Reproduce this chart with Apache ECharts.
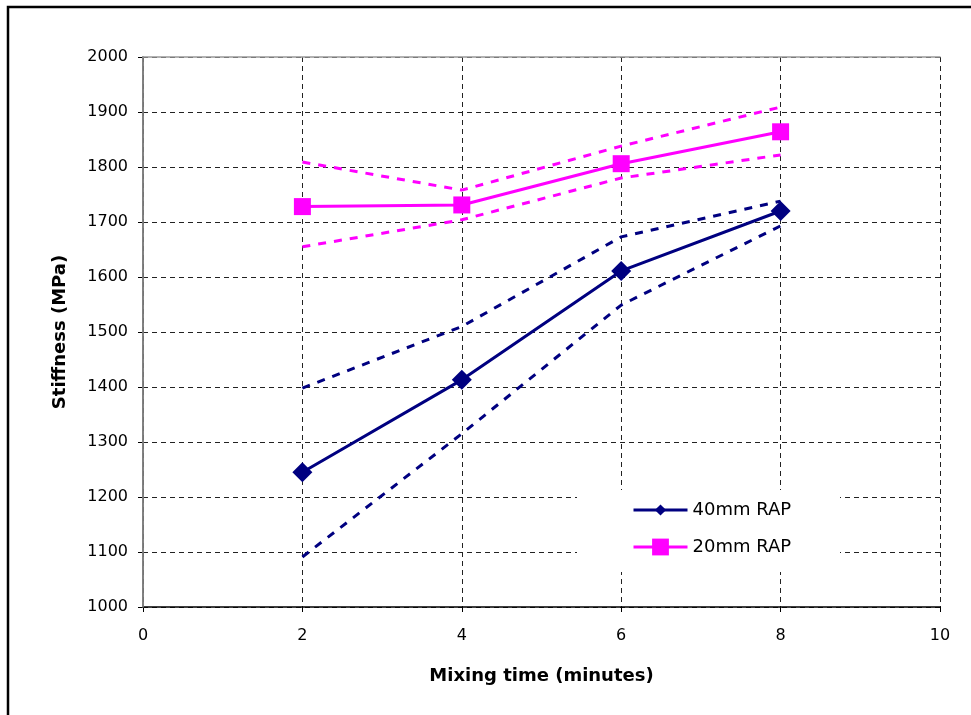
<!DOCTYPE html>
<html>
<head>
<meta charset="utf-8">
<script src="https://cdn.jsdelivr.net/npm/echarts@6/dist/echarts.min.js"></script>
<style>html,body{margin:0;padding:0;background:#fff}#c{width:971px;height:715px}</style>
</head>
<body>
<div id="c"></div>
<script>
var mixTime = [2, 4, 6, 8];
var rap40 = [1245, 1413, 1611, 1720];
var rap40Upper = [1398, 1510, 1673, 1738];
var rap40Lower = [1091, 1315, 1549, 1693];
var rap20 = [1728, 1731, 1806, 1864];
var rap20Upper = [1809, 1758, 1838, 1909];
var rap20Lower = [1655, 1704, 1780, 1822];
var xTicks = [0, 2, 4, 6, 8, 10];
var yTicks = [1000, 1100, 1200, 1300, 1400, 1500, 1600, 1700, 1800, 1900, 2000];

function pts(vals) { return mixTime.map(function (x, i) { return [x, vals[i]]; }); }

var NAVY = '#000080', MAG = '#FF00FF';
var font = 'DejaVu Sans';

function bound(vals, color) {
  return {
    type: 'line', data: pts(vals), symbol: 'none', silent: true, z: 2,
    lineStyle: { color: color, width: 3, type: [8, 8] }
  };
}

var chart = echarts.init(document.getElementById('c'), null, { renderer: 'canvas' });
chart.setOption({
  animation: false,
  backgroundColor: '#fff',
  textStyle: { fontFamily: font },
  grid: { left: 143, top: 57, right: 31, bottom: 108, show: false },
  graphic: [
    { type: 'rect', z: 0, shape: { x: 8, y: 7, width: 1000, height: 800 },
      style: { fill: 'none', stroke: '#000', lineWidth: 2.5 } },
    { type: 'rect', z: 5, shape: { x: 577, y: 490, width: 263, height: 82 },
      style: { fill: '#fff', stroke: 'none' } }
  ],
  legend: [
    { data: ['40mm RAP'], left: 632, top: 501, padding: 0, itemWidth: 54, itemHeight: 14,
      itemGap: 0, z: 10, lineStyle: { width: 3 },
      textStyle: { fontFamily: font, fontSize: 18, color: '#000' } },
    { data: ['20mm RAP'], left: 632, top: 538, padding: 0, itemWidth: 54, itemHeight: 21,
      itemGap: 0, z: 10, lineStyle: { width: 3 },
      textStyle: { fontFamily: font, fontSize: 18, color: '#000' } }
  ],
  xAxis: [{
    type: 'value', min: xTicks[0], max: xTicks[xTicks.length - 1], interval: 2,
    name: 'Mixing time (minutes)', nameLocation: 'middle', nameGap: 60,
    nameTextStyle: { fontFamily: font, fontSize: 18, fontWeight: 'bold', color: '#000' },
    axisLine: { show: true, lineStyle: { color: '#000', width: 1.5 } },
    axisTick: { show: true, inside: false, length: 5, lineStyle: { color: '#000' } },
    axisLabel: { fontFamily: font, fontSize: 16, color: '#000', margin: 21,
      formatter: function (v) { return String(v); } },
    splitLine: { show: true, lineStyle: { color: '#222', width: 1, type: [5, 4] } }
  }, {
    type: 'value', position: 'top', min: 0, max: 10, interval: 2, z: 3,
    axisLine: { show: true, lineStyle: { color: '#999', width: 1.5 } },
    axisTick: { show: false }, axisLabel: { show: false }, splitLine: { show: false }
  }],
  yAxis: [{
    type: 'value', min: yTicks[0], max: yTicks[yTicks.length - 1], interval: 100,
    name: 'Stiffness (MPa)', nameLocation: 'middle', nameGap: 74, nameRotate: 90,
    nameTextStyle: { fontFamily: font, fontSize: 18, fontWeight: 'bold', color: '#000' },
    axisLine: { show: true, lineStyle: { color: '#000', width: 1.5 } },
    axisTick: { show: true, inside: false, length: 5, lineStyle: { color: '#000' } },
    axisLabel: { fontFamily: font, fontSize: 16, color: '#000', margin: 15,
      formatter: function (v) { return String(v); } },
    splitLine: { show: true, lineStyle: { color: '#222', width: 1, type: [5, 4] } }
  }, {
    type: 'value', position: 'right', min: 1000, max: 2000, interval: 100, z: 3,
    axisLine: { show: true, lineStyle: { color: '#999', width: 1.5 } },
    axisTick: { show: false }, axisLabel: { show: false }, splitLine: { show: false }
  }],
  series: [
    bound(rap40Upper, NAVY), bound(rap40Lower, NAVY),
    bound(rap20Upper, MAG), bound(rap20Lower, MAG),
    { name: '40mm RAP', type: 'line', data: pts(rap40), symbol: 'diamond', symbolSize: 20, z: 3,
      lineStyle: { color: NAVY, width: 3 }, itemStyle: { color: NAVY } },
    { name: '20mm RAP', type: 'line', data: pts(rap20), symbol: 'rect', symbolSize: 17, z: 3,
      lineStyle: { color: MAG, width: 3 }, itemStyle: { color: MAG } }
  ]
});
</script>
</body>
</html>
